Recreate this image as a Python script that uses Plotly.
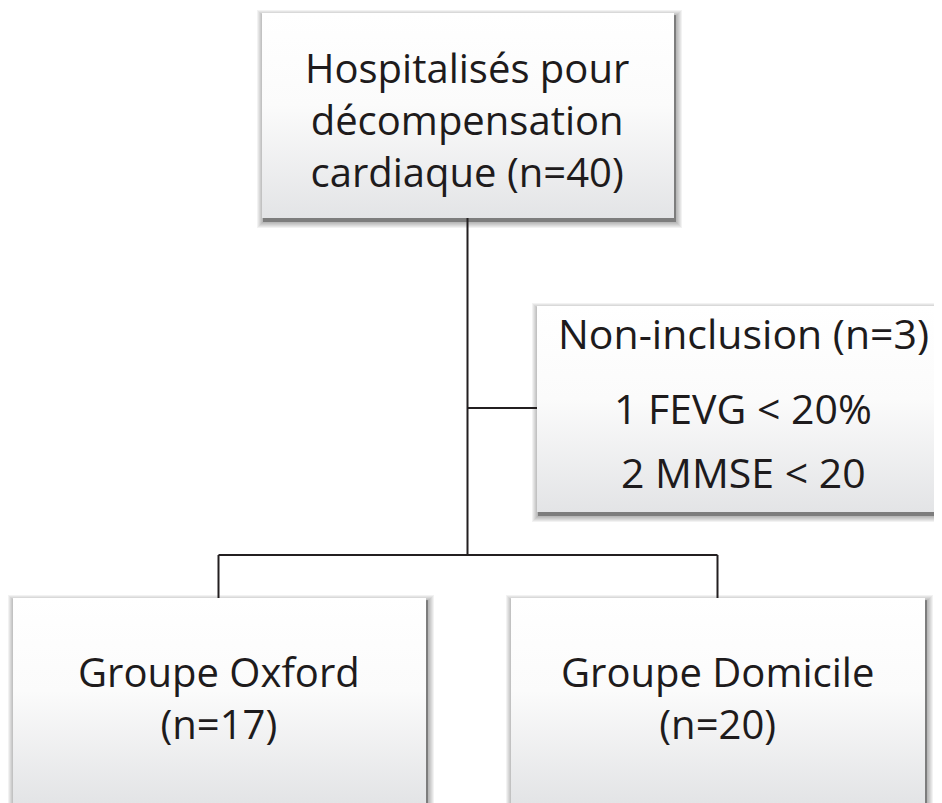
import plotly.graph_objects as go

# Diagram content
top_lines = ["Hospitalisés pour", "décompensation", "cardiaque (n=40)"]
excl_lines = ["Non-inclusion (n=3)", "1 FEVG < 20%", "2 MMSE < 20"]
left_lines = ["Groupe Oxford", "(n=17)"]
right_lines = ["Groupe Domicile", "(n=20)"]

W, H = 942, 803
OFF = 8  # page body margin
FONT = "Open Sans"
TXT = "#1e1b1c"
LINE = "#231f20"

# box geometry (x0, y0, x1, y1) in screen pixel space
boxes = {
    "top": (262, 13, 674, 218),
    "excl": (537, 306, 952, 512),
    "left": (13, 598, 426, 840),
    "right": (511, 598, 925, 840),
}

fig = go.Figure()
shapes = []

# soft shadows (stacked translucent rectangles)
for key, (x0, y0, x1, y1) in boxes.items():
    for i in range(1, 8):
        shapes.append(dict(type="rect", x0=x0 - i + 2, x1=x1 + i + 1, y0=y0 - i + 4, y1=y1 + i + 3,
                           fillcolor="rgba(0,0,0,0.05)", line=dict(width=0), layer="below"))
    shapes.append(dict(type="rect", x0=x0 + 1, x1=x1 + 2, y0=y0 + 2, y1=y1 + 4,
                       fillcolor="rgba(0,0,0,0.28)", line=dict(width=0), layer="below"))

# connectors
lw = 2
conn = [
    (467.5, 218, 467.5, 555),
    (467.5, 408, 537, 408),
    (218.5, 555, 717.5, 555),
    (218.5, 555, 218.5, 598),
    (717.5, 555, 717.5, 598),
]
for x0, y0, x1, y1 in conn:
    shapes.append(dict(type="line", x0=x0, y0=y0, x1=x1, y1=y1,
                       line=dict(color=LINE, width=lw), layer="below"))

# boxes with vertical gradient
for key, (x0, y0, x1, y1) in boxes.items():
    fig.add_trace(go.Scatter(
        x=[x0, x1, x1, x0, x0], y=[y0, y0, y1, y1, y0],
        mode="lines", line=dict(width=0), fill="toself",
        fillgradient=dict(type="vertical",
                          colorscale=[[0, "#ffffff"], [0.45, "#fbfbfb"], [1, "#e3e4e6"]],
                          start=y0, stop=min(y1, 803)),
        hoverinfo="skip", showlegend=False))

annotations = []
def add_block(lines, cx, mid_baseline, size):
    annotations.append(dict(text="<br>".join(lines), x=cx, y=mid_baseline - 0.36 * size,
                            xref="x", yref="y", showarrow=False, xanchor="center",
                            yanchor="middle", align="center",
                            font=dict(family=FONT, size=size, color=TXT)))

def add_lines(lines, cx, baselines, size):
    for t, b in zip(lines, baselines):
        annotations.append(dict(text=t, x=cx, y=b - 0.36 * size, xref="x", yref="y",
                                showarrow=False, xanchor="center", yanchor="middle",
                                font=dict(family=FONT, size=size, color=TXT)))

add_block(top_lines, 467, 134, 40)
add_lines(excl_lines, 743, [348, 423, 487], 41)
add_block(left_lines, 219, 711.5, 40)
add_block(right_lines, 717, 711.5, 40)

fig.update_layout(
    width=W, height=H, margin=dict(l=0, r=0, t=0, b=0),
    paper_bgcolor="white", plot_bgcolor="white",
    xaxis=dict(range=[OFF, W + OFF], visible=False, fixedrange=True),
    yaxis=dict(range=[H + OFF, OFF], visible=False, fixedrange=True),
    shapes=shapes, annotations=annotations, showlegend=False,
)
fig.write_html("out.html")
